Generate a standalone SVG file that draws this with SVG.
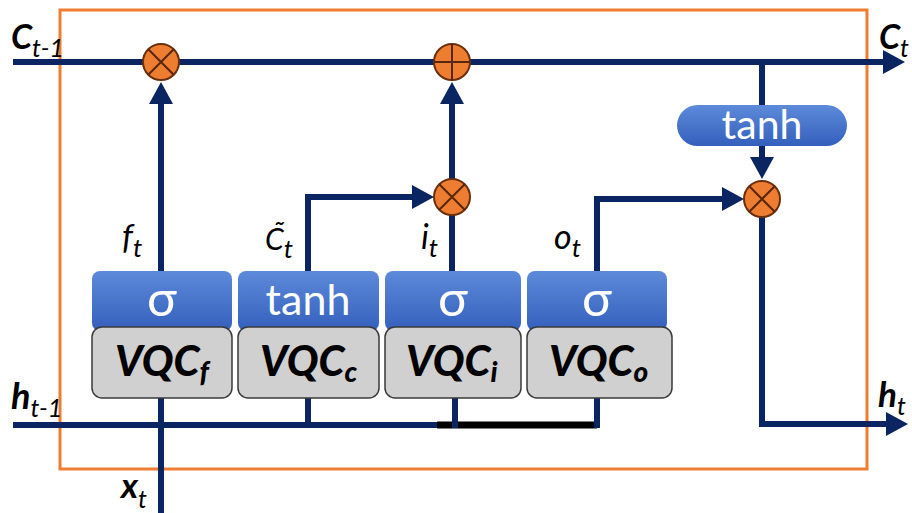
<svg xmlns="http://www.w3.org/2000/svg" width="912" height="513" viewBox="0 0 912 513">
<style>
.wire{stroke:#0b2462;stroke-width:6;fill:none}
.blk{stroke:#000;stroke-width:7;fill:none}
.op{fill:#ED7D31;stroke:#6b2f0c;stroke-width:2}
.opx{stroke:#5a260a;stroke-width:2;fill:none}
.gate{fill:url(#bg)}
.vqc{fill:#d0d0d0;stroke:#3a3a3a;stroke-width:1.5}
.wt{font-family:Lato,'Open Sans','DejaVu Sans',sans-serif;fill:#fff;text-anchor:middle}
.vt{font-family:Lato,'Open Sans','Liberation Sans',sans-serif;font-weight:900;font-style:italic;fill:#000}
.lab{font-family:Lato,'Open Sans','Liberation Sans',sans-serif;font-style:italic;fill:#000}
.io{font-family:Lato,'Open Sans','Liberation Sans',sans-serif;fill:#000}
</style>
<defs>
<linearGradient id="bg" x1="0" y1="0" x2="0" y2="1">
<stop offset="0" stop-color="#5d8ad9"/>
<stop offset="1" stop-color="#3460bd"/>
</linearGradient>
<marker id="ah" markerUnits="userSpaceOnUse" markerWidth="24" markerHeight="24" viewBox="0 0 22 24" refX="8" refY="12" orient="auto">
<path d="M0,0 L22,12 L0,24 z" fill="#0b2462"/>
</marker>
</defs>
<rect x="0" y="0" width="912" height="513" fill="#fff"/>
<rect id="cell" x="60" y="10" width="807" height="459" fill="none" stroke="#ED7D31" stroke-width="3"/>

<g id="connectors">
<line class="wire" x1="13" y1="62" x2="891" y2="62" marker-end="url(#ah)"/>
<line class="wire" x1="13" y1="425" x2="437" y2="425"/>
<line class="blk" x1="437" y1="425" x2="597" y2="425"/>
<line class="wire" x1="161" y1="513" x2="161" y2="398"/>
<line class="wire" x1="308" y1="398" x2="308" y2="425"/>
<line class="wire" x1="455" y1="398" x2="455" y2="428"/>
<line class="wire" x1="597" y1="398" x2="597" y2="428"/>
<line class="wire" x1="161" y1="272" x2="161" y2="96" marker-end="url(#ah)"/>
<polyline class="wire" points="308,272 308,197 420,197" marker-end="url(#ah)"/>
<line class="wire" x1="452" y1="272" x2="452" y2="214"/>
<line class="wire" x1="452" y1="179" x2="452" y2="96" marker-end="url(#ah)"/>
<polyline class="wire" points="597,272 597,199 730,199" marker-end="url(#ah)"/>
<line class="wire" x1="762" y1="62" x2="762" y2="165" marker-end="url(#ah)"/>
<polyline class="wire" points="762,216 762,424 894,424" marker-end="url(#ah)"/>
</g>

<g id="mul_f"><circle class="op" cx="161" cy="62" r="18"/><path class="opx" d="M148.3,49.3 L173.7,74.7 M173.7,49.3 L148.3,74.7"/></g>
<g id="add_c"><circle class="op" cx="452" cy="62" r="18"/><path class="opx" d="M452,44 V80 M434,62 H470"/></g>
<g id="mul_i"><circle class="op" cx="452" cy="197" r="18"/><path class="opx" d="M439.3,184.3 L464.7,209.7 M464.7,184.3 L439.3,209.7"/></g>
<g id="mul_o"><circle class="op" cx="762" cy="199" r="18"/><path class="opx" d="M749.3,186.3 L774.7,211.7 M774.7,186.3 L749.3,211.7"/></g>

<g id="tanh_out"><rect class="gate" x="677" y="105" width="170" height="41" rx="20.5"/><text class="wt" x="762" y="139" font-size="41">tanh</text></g>

<g id="gate_f">
<rect class="gate" x="92" y="271" width="140" height="60" rx="8"/>
<text class="wt" x="162" y="316" font-size="50">σ</text>
<rect class="vqc" x="92" y="327" width="140" height="71" rx="10"/>
<text class="vt" x="115" y="376" font-size="42">VQC<tspan font-size="28" dy="6">f</tspan></text>
</g>
<g id="gate_c">
<rect class="gate" x="238" y="271" width="141" height="60" rx="8"/>
<text class="wt" x="308" y="315" font-size="43">tanh</text>
<rect class="vqc" x="238" y="327" width="141" height="71" rx="10"/>
<text class="vt" x="260" y="376" font-size="42">VQC<tspan font-size="28" dy="6">c</tspan></text>
</g>
<g id="gate_i">
<rect class="gate" x="385" y="271" width="136" height="60" rx="8"/>
<text class="wt" x="453" y="316" font-size="50">σ</text>
<rect class="vqc" x="385" y="327" width="136" height="71" rx="10"/>
<text class="vt" x="406" y="376" font-size="42">VQC<tspan font-size="28" dy="6">i</tspan></text>
</g>
<g id="gate_o">
<rect class="gate" x="527" y="271" width="140" height="60" rx="8"/>
<text class="wt" x="597" y="316" font-size="50">σ</text>
<rect class="vqc" x="527" y="327" width="145" height="71" rx="10"/>
<text class="vt" x="549" y="376" font-size="42">VQC<tspan font-size="28" dy="6">o</tspan></text>
</g>

<g id="labels">
<text class="lab" x="122" y="249" font-size="34">f<tspan font-size="26" dy="8">t</tspan></text>
<text class="lab" x="265" y="250" font-size="30">C̃<tspan font-size="26" dy="8">t</tspan></text>
<text class="lab" x="421" y="249" font-size="34">i<tspan font-size="26" dy="8">t</tspan></text>
<text class="lab" x="554" y="249" font-size="34">o<tspan font-size="26" dy="8">t</tspan></text>
</g>

<g id="io_labels">
<text class="io" x="11" y="49" font-size="34" font-weight="bold" font-style="italic">C<tspan font-size="25" font-weight="normal" dy="8">t-1</tspan></text>
<text class="io" x="879" y="49" font-size="34" font-weight="bold" font-style="italic">C<tspan font-size="25" font-weight="normal" dy="8">t</tspan></text>
<text class="io" x="11" y="409" font-size="36" font-weight="bold" font-style="italic">h<tspan font-size="25" font-weight="normal" dy="8">t-1</tspan></text>
<text class="io" x="878" y="407" font-size="35" font-weight="bold" font-style="italic">h<tspan font-size="25" font-weight="normal" dy="8">t</tspan></text>
<text class="io" x="121" y="498" font-size="35" font-weight="bold" font-style="italic">x<tspan font-size="25" font-weight="normal" dy="10">t</tspan></text>
</g>
</svg>
